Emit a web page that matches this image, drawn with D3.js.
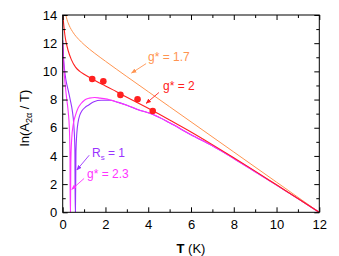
<!DOCTYPE html>
<html><head><meta charset="utf-8">
<script src="https://cdn.jsdelivr.net/npm/d3@7"></script>
<style>
html,body{margin:0;padding:0;background:#fff;}
svg{display:block;font-family:"Liberation Sans",Arial,sans-serif;}
</style></head><body>
<svg id="c" width="339" height="256"></svg>
<script>
// ---- data ----
const orangeT = [0.14,0.2,0.3,0.5,0.75,1.0,1.5,2.0,2.5,3.0,4.0,5.0,6.0,8.0,10.0,12.0];
const orangeV = [14.04,13.68,13.27,12.73,12.27,11.9,11.28,10.72,10.17,9.63,8.56,7.49,6.42,4.28,2.14,0];

const redT = [0,0.05,0.1,0.17,0.25,0.4,0.6,0.8,1.0,1.34,1.7,2.0,2.5,3.0,3.5,4.0,4.5,5,6,7,8,9,10,11,12];
const redV = [14,13.3,12.6,12.0,11.5,10.85,10.3,10.0,9.8,9.5,9.2,8.97,8.57,8.17,7.78,7.38,6.97,6.55,5.7,4.8,3.87,2.92,1.95,0.98,0];

const dotT = [1.38,1.9,2.7,3.5,4.21];
const dotV = [9.46,9.3,8.33,8.02,7.19];

const magT = [0,0.03,0.08,0.14,0.2,0.26,0.31,0.34,0.352,0.362,0.38,0.42,0.5,0.6,0.72,0.85,1.03,1.25,1.5,1.75,2.0,2.5,3.0,3.5,4.2,5,6,7,8,9,10,11,12];
const magV = [12.0,11.0,9.7,8.7,7.9,7.1,6.0,4.2,0,0,3.5,5.2,6.3,6.9,7.4,7.7,7.97,8.1,8.15,8.1,8.05,7.85,7.6,7.3,6.95,6.35,5.5,4.72,3.82,2.88,1.93,0.97,0];

const purT = [0,0.03,0.08,0.15,0.25,0.35,0.45,0.52,0.57,0.585,0.595,0.62,0.66,0.72,0.8,0.9,1.05,1.2,1.46,1.8,2.2,2.6,3.0,3.5,4.2,5,6,7,8,9,10,11,12];
const purV = [12.2,11.2,10.2,9.4,8.7,8.0,7.2,6.2,4.5,0,0,4.3,5.6,6.4,6.9,7.2,7.45,7.6,7.85,7.95,7.95,7.8,7.6,7.3,6.95,6.35,5.5,4.72,3.82,2.88,1.93,0.97,0];

const xTicks = [0,2,4,6,8,10,12];
const yTicks = [0,2,4,6,8,10,12,14];

// ---- layout ----
const svg = d3.select("#c");
const x = d3.scaleLinear().domain([0,12]).range([62.7,319.3]);
const y = d3.scaleLinear().domain([0,14]).range([212.3,15]);

const colOrange="#ff9450", colRed="#ff2020", colMag="#ff33ff", colPur="#9933ff";

svg.append("clipPath").attr("id","clip").append("rect")
  .attr("x",x(0)).attr("y",y(14)).attr("width",x(12)-x(0)).attr("height",y(0)-y(14));

const defs = svg.append("defs");
function marker(id,col){
  defs.append("marker").attr("id",id).attr("viewBox","0 0 10 10").attr("refX",9).attr("refY",5)
    .attr("markerWidth",6).attr("markerHeight",6).attr("orient","auto")
    .append("path").attr("d","M0,1 L10,5 L0,9 Z").attr("fill",col);
}
marker("mo",colOrange);marker("mr",colRed);marker("mm",colMag);marker("mp",colPur);

const line = d3.line().x(d=>x(d[0])).y(d=>y(d[1])).curve(d3.curveMonotoneX);
const g = svg.append("g").attr("clip-path","url(#clip)");
function series(T,V,col,w){
  g.append("path").datum(T.map((t,i)=>[t,V[i]])).attr("d",line)
   .attr("fill","none").attr("stroke",col).attr("stroke-width",w);
}
series(orangeT,orangeV,colOrange,1);
series(purT,purV,colPur,1.1);
series(magT,magV,colMag,1.1);
series(redT,redV,colRed,1.1);

g.selectAll("circle.d").data(dotT.map((t,i)=>[t,dotV[i]])).enter().append("circle")
  .attr("cx",d=>x(d[0])).attr("cy",d=>y(d[1])).attr("r",3.3).attr("fill",colRed);

// ---- axes ----
const xMinor = d3.range(1,12,2), yMinor = d3.range(1,14,2);
function ticks(axisFn,scale,vals,size,labels,transform){
  const a = axisFn(scale).tickValues(vals).tickSizeInner(-size).tickSizeOuter(0);
  if(!labels) a.tickFormat("");
  const gg = svg.append("g").attr("transform",transform).call(a);
  gg.select(".domain").remove();
  gg.selectAll("line").attr("stroke","#000");
  return gg;
}
const bx = ticks(d3.axisBottom,x,xTicks,5,true,`translate(0,${y(0)})`);
bx.selectAll("text").attr("font-size",13).attr("fill","#000").attr("dy","1.05em").attr("y",3);
ticks(d3.axisBottom,x,xMinor,3,false,`translate(0,${y(0)})`);
ticks(d3.axisTop,x,xTicks,5,false,`translate(0,${y(14)})`);
ticks(d3.axisTop,x,xMinor,3,false,`translate(0,${y(14)})`);
const ly = ticks(d3.axisLeft,y,yTicks,5,true,`translate(${x(0)},0)`);
ly.selectAll("text").attr("font-size",13).attr("fill","#000").attr("x",-5.5);
ticks(d3.axisLeft,y,yMinor,3,false,`translate(${x(0)},0)`);
ticks(d3.axisRight,y,yTicks,5,false,`translate(${x(12)},0)`);
ticks(d3.axisRight,y,yMinor,3,false,`translate(${x(12)},0)`);

svg.append("rect").attr("x",x(0)).attr("y",y(14)).attr("width",x(12)-x(0)).attr("height",y(0)-y(14))
  .attr("fill","none").attr("stroke","#000").attr("stroke-width",1);

// ---- titles ----
const xt = svg.append("text").attr("x",191).attr("y",253).attr("text-anchor","middle").attr("font-size",13);
xt.append("tspan").attr("font-weight","bold").text("T");
xt.append("tspan").text(" (K)");

const yt = svg.append("text").attr("transform","translate(29,118) rotate(-90)").attr("text-anchor","middle").attr("font-size",13);
yt.append("tspan").text("ln(A");
yt.append("tspan").attr("font-size",9).attr("dy",3).text("2α");
yt.append("tspan").attr("dy",-3).text(" / T)");

// ---- annotations ----
function note(txt,tx,ty,col,a0,a1,mk,sub){
  const t = svg.append("text").attr("x",x(tx)).attr("y",y(ty)).attr("font-size",12).attr("fill",col);
  if(sub){
    t.append("tspan").text(txt[0]);
    t.append("tspan").attr("font-size",8).attr("dy",2.5).text(sub);
    t.append("tspan").attr("dy",-2.5).text(txt[1]);
  } else t.text(txt);
  svg.append("line").attr("x1",x(a0[0])).attr("y1",y(a0[1])).attr("x2",x(a1[0])).attr("y2",y(a1[1]))
    .attr("stroke",col).attr("stroke-width",0.9).attr("marker-end",`url(#${mk})`);
}
note("g* = 1.7",3.99,10.73,colOrange,[3.9,10.55],[3.22,9.88],"mo");
note("g* = 2",4.69,8.68,colRed,[4.5,8.5],[3.9,7.73],"mr");
note(["R"," = 1"],1.37,3.92,colPur,[1.24,4.05],[0.66,3.0],"mp","s");
note("g* = 2.3",1.14,2.43,colMag,[1.0,2.4],[0.42,1.62],"mm");
</script>
</body></html>
